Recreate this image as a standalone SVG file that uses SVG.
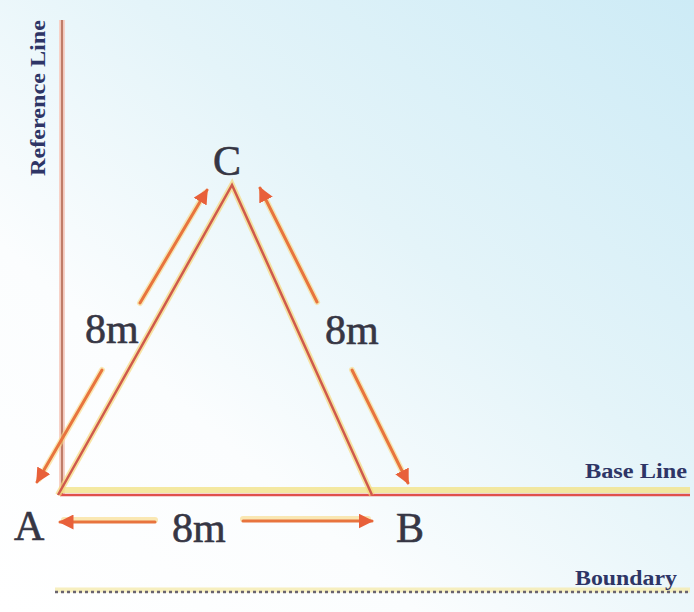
<svg xmlns="http://www.w3.org/2000/svg" width="694" height="612" viewBox="0 0 694 612">
<defs>
<linearGradient id="bg" x1="0" y1="1" x2="1" y2="0">
<stop offset="0" stop-color="#ffffff"/>
<stop offset="0.3" stop-color="#fbfdfe"/>
<stop offset="0.6" stop-color="#e4f4f9"/>
<stop offset="1" stop-color="#cdebf6"/>
</linearGradient>
<marker id="ah" viewBox="0 0 10 10" refX="9" refY="5" markerWidth="5" markerHeight="5" orient="auto" markerUnits="strokeWidth">
<path d="M0,0 L10,5 L0,10 z" fill="#e8603a"/>
</marker>
</defs>
<style>
.lbl{font-family:"Liberation Serif","Times New Roman",serif;font-size:42px;fill:#363644;stroke:#363644;stroke-width:0.6}
.sm{font-family:"Liberation Serif","Times New Roman",serif;font-size:20px;font-weight:bold;fill:#2e3566}
.glow{stroke:#f6d77a;stroke-width:6;fill:none;opacity:0.7}
.side{stroke:#cf5a4c;stroke-width:2.5;fill:none}
.arr{stroke:#e8743e;stroke-width:3;fill:none;stroke-linecap:round}
.arrglow{stroke:#f8d880;stroke-width:6;fill:none;opacity:0.6;stroke-linecap:round}
</style>
<rect width="694" height="612" fill="url(#bg)"/>

<g id="reference-line">
<line x1="62" y1="20" x2="62" y2="495" stroke="#f7d2c8" stroke-width="6"/>
<line x1="62" y1="20" x2="62" y2="495" stroke="#bf7c68" stroke-width="2.2"/>
<text class="sm" transform="translate(45,98) rotate(-90)" text-anchor="middle" font-size="17" textLength="156" lengthAdjust="spacingAndGlyphs">Reference Line</text>
</g>

<g id="base-line">
<line x1="60" y1="490" x2="690" y2="490" stroke="#f3e48a" stroke-width="6" opacity="0.8"/>
<line x1="60" y1="495" x2="690" y2="495" stroke="#e0504c" stroke-width="2.5"/>
<text class="sm" x="585" y="478" textLength="102" lengthAdjust="spacingAndGlyphs">Base Line</text>
</g>

<g id="boundary">
<line x1="55" y1="590" x2="690" y2="590" stroke="#f6ecb0" stroke-width="5" opacity="0.8"/>
<line x1="55" y1="592" x2="690" y2="592" stroke="#6a6470" stroke-width="2.5" stroke-dasharray="3 3"/>
<text class="sm" x="575" y="585" textLength="102" lengthAdjust="spacingAndGlyphs">Boundary</text>
</g>

<g id="triangle">
<polyline points="58,495 232,185 372,495" class="glow"/>
<polyline points="58,495 232,185 372,495" class="side"/>
</g>

<g id="A"><text class="lbl" x="14" y="540">A</text></g>
<g id="B"><text class="lbl" x="396" y="542">B</text></g>
<g id="C"><text class="lbl" x="213" y="175">C</text></g>

<g id="connectors">
<line class="arrglow" x1="140" y1="303" x2="205" y2="193"/>
<line class="arrglow" x1="102" y1="370" x2="39" y2="479"/>
<line class="arr" x1="140" y1="303" x2="207" y2="190" marker-end="url(#ah)"/>
<line class="arr" x1="102" y1="370" x2="37" y2="482" marker-end="url(#ah)"/>

<line class="arrglow" x1="317" y1="302" x2="262" y2="192"/>
<line class="arrglow" x1="352" y1="370" x2="406" y2="479"/>
<line class="arr" x1="317" y1="302" x2="260" y2="188" marker-end="url(#ah)"/>
<line class="arr" x1="352" y1="370" x2="408" y2="483" marker-end="url(#ah)"/>

<line class="arrglow" x1="155" y1="520" x2="64" y2="520"/>
<line class="arrglow" x1="243" y1="519" x2="368" y2="519"/>
<line class="arr" x1="155" y1="522" x2="60" y2="522" marker-end="url(#ah)"/>
<line class="arr" x1="243" y1="521" x2="372" y2="521" marker-end="url(#ah)"/>
</g>

<g id="labels-8m">
<text class="lbl" x="85" y="343">8m</text>
<text class="lbl" x="325" y="344">8m</text>
<text class="lbl" x="172" y="542">8m</text>
</g>
</svg>
